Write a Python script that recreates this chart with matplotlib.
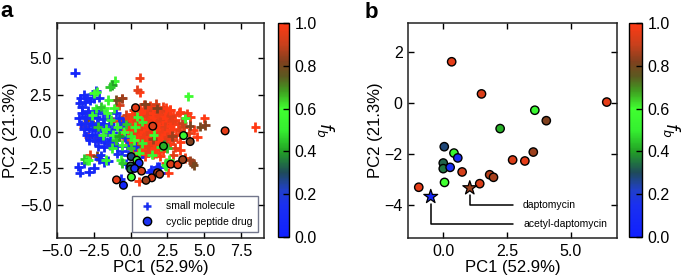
import matplotlib
matplotlib.use("Agg")
import matplotlib.pyplot as plt
from matplotlib.colors import LinearSegmentedColormap
from matplotlib.lines import Line2D
import numpy as np

plt.rcParams['font.family'] = ['Liberation Sans', 'DejaVu Sans']

# small molecules: (PC1, PC2, f_b), grouped roughly by colour
sm_red = [
    (0.9, 1.85, 0.95), (1.3, 1.75, 1.0), (1.7, 1.9, 0.92), (2.2, 1.7, 0.97),
    (0.2, 1.45, 0.9), (0.6, 1.55, 0.98), (1.0, 1.5, 1.0), (1.4, 1.45, 0.95), (1.8, 1.55, 0.97),
    (2.3, 1.4, 0.93), (2.7, 1.5, 1.0),
    (-0.3, 1.15, 0.92), (0.1, 1.2, 1.0), (0.5, 1.1, 0.96), (0.9, 1.25, 1.0), (1.3, 1.15, 0.94),
    (1.7, 1.2, 1.0), (2.1, 1.1, 0.97), (2.5, 1.2, 0.95), (2.9, 1.1, 1.0), (3.3, 1.3, 0.96),
    (-0.6, 0.8, 0.9), (-0.2, 0.9, 0.97), (0.2, 0.85, 1.0), (0.6, 0.8, 0.94), (1.0, 0.9, 1.0),
    (1.4, 0.8, 0.97), (1.8, 0.9, 0.95), (2.2, 0.8, 1.0), (2.6, 0.9, 0.96), (3.0, 0.8, 1.0),
    (-0.4, 0.5, 0.95), (0.0, 0.45, 1.0), (0.4, 0.55, 0.96), (0.8, 0.5, 1.0), (1.2, 0.45, 0.93),
    (1.6, 0.55, 1.0), (2.0, 0.5, 0.97), (2.4, 0.45, 1.0), (2.8, 0.55, 0.95), (3.2, 0.5, 0.98),
    (-0.7, 0.15, 0.92), (-0.3, 0.2, 1.0), (0.1, 0.1, 0.95), (0.5, 0.2, 1.0), (0.9, 0.15, 0.97),
    (1.3, 0.1, 1.0), (1.7, 0.2, 0.94), (2.1, 0.15, 1.0), (2.5, 0.1, 0.96), (2.9, 0.2, 1.0),
    (3.3, 0.1, 0.95),
    (-0.5, -0.2, 0.95), (-0.1, -0.15, 1.0), (0.3, -0.25, 0.96), (0.7, -0.2, 1.0), (1.1, -0.15, 0.94),
    (1.5, -0.25, 1.0), (1.9, -0.2, 0.97), (2.3, -0.15, 1.0), (2.7, -0.25, 0.95), (3.1, -0.2, 0.98),
    (-0.3, -0.55, 0.93), (0.1, -0.5, 1.0), (0.5, -0.6, 0.97), (0.9, -0.55, 1.0), (1.3, -0.5, 0.95),
    (1.7, -0.6, 1.0), (2.1, -0.55, 0.96), (2.5, -0.5, 1.0), (2.9, -0.6, 0.94),
    (-0.1, -0.9, 0.97), (0.3, -0.85, 1.0), (0.7, -0.95, 0.94), (1.1, -0.9, 1.0), (1.5, -0.85, 0.96),
    (1.9, -0.95, 1.0), (2.3, -0.9, 0.95), (2.7, -0.85, 1.0),
    (0.2, -1.25, 0.95), (0.6, -1.2, 1.0), (1.0, -1.3, 0.97), (1.4, -1.25, 1.0), (1.8, -1.2, 0.94),
    (2.2, -1.3, 1.0),
    (0.5, -1.6, 0.96), (1.0, -1.65, 1.0), (1.5, -1.55, 0.93), (2.0, -1.65, 1.0),
    # in-between points of the dense core
    (0.7, 1.35, 1.0), (1.1, 1.65, 0.97), (1.5, 1.3, 1.0), (1.9, 1.35, 0.95), (2.4, 1.6, 1.0),
    (0.3, 1.0, 0.96), (0.7, 1.0, 1.0), (1.1, 1.05, 0.95), (1.5, 1.0, 1.0), (1.9, 1.05, 0.97),
    (2.3, 1.0, 1.0), (2.7, 1.05, 0.94), (0.0, 0.65, 1.0), (0.4, 0.7, 0.95), (0.8, 0.65, 1.0),
    (1.2, 0.7, 0.97), (1.6, 0.65, 1.0), (2.0, 0.7, 0.95), (2.4, 0.65, 1.0), (2.8, 0.7, 0.96),
    (-0.1, 0.3, 0.97), (0.3, 0.35, 1.0), (0.7, 0.3, 0.95), (1.1, 0.35, 1.0), (1.5, 0.3, 0.96),
    (1.9, 0.35, 1.0), (2.3, 0.3, 0.94), (2.7, 0.35, 1.0), (0.1, -0.05, 1.0), (0.5, 0.0, 0.96),
    (0.9, -0.05, 1.0), (1.3, 0.0, 0.95), (1.7, -0.05, 1.0), (2.1, 0.0, 0.97), (2.5, -0.05, 1.0),
    (0.1, -0.35, 0.95), (0.5, -0.4, 1.0), (0.9, -0.35, 0.97), (1.3, -0.4, 1.0), (1.7, -0.35, 0.95),
    (2.1, -0.4, 1.0), (2.5, -0.35, 0.96), (0.3, -0.7, 1.0), (0.7, -0.75, 0.95), (1.1, -0.7, 1.0),
    (1.5, -0.75, 0.97), (1.9, -0.7, 1.0), (2.3, -0.75, 0.94), (0.4, -1.05, 0.97), (0.8, -1.1, 1.0),
    (1.2, -1.05, 0.95), (1.6, -1.1, 1.0), (2.0, -1.05, 0.96), (0.8, -1.45, 1.0), (1.2, -1.4, 0.95),
    (1.7, -1.45, 1.0),
    # outliers
    (0.61, 3.67, 0.97), (0.61, 2.68, 1.0), (0.45, 2.85, 0.95), (-0.61, 2.27, 0.93), (-0.79, 1.8, 0.92),
    (3.38, 1.36, 1.0), (3.83, 1.25, 0.97), (4.05, 1.0, 1.0), (3.7, 0.95, 0.95), (5.0, 0.9, 1.0),
    (4.28, 0.12, 1.0), (3.94, -0.1, 0.95), (4.5, -0.34, 1.0), (3.38, -0.68, 1.0), (3.6, 0.3, 0.93),
    (3.38, -1.25, 1.0), (3.72, -1.81, 0.97), (2.52, -2.79, 1.0), (2.4, -2.15, 0.97), (8.47, 0.3, 1.0),
    (2.7, 1.48, 1.0), (3.5, 0.6, 0.9), (2.9, -1.6, 0.95), (0.56, -3.4, 1.0), (3.0, -1.1, 0.96),
    (-2.88, -0.34, 0.95), (-2.25, -0.45, 0.92), (-2.75, -1.59, 0.96), (-2.25, 0.34, 0.93),
    (-3.16, 0.34, 0.95), (-1.2, 0.7, 0.95), (-1.0, -0.6, 0.97),
]
sm_brown = [
    (-2.93, 0.8, 0.8), (-2.59, 0.46, 0.78), (-0.56, 2.27, 0.85), (-0.97, 2.15, 0.8),
    (0.97, 1.86, 0.82), (1.8, 1.59, 0.82), (1.5, -0.5, 0.85), (2.8, -0.3, 0.85),
    (4.0, 0.4, 0.82), (-2.3, -1.65, 0.8), (-1.5, -0.8, 0.8), (0.3, -1.0, 0.85),
    (4.73, 0.34, 0.8), (5.07, 0.45, 0.82), (4.19, -2.13, 0.82), (4.28, -2.27, 0.8),
    (4.05, -1.95, 0.85), (-2.88, 1.25, 0.8),
]
sm_blue = [
    (-3.78, 4.01, 0.05), (-3.2, 2.5, 0.08), (-3.42, 2.27, 0.05), (-2.93, 2.31, 0.1), (-3.11, 2.04, 0.06),
    (-2.59, 2.54, 0.1), (-2.48, 2.27, 0.05), (-2.36, 2.77, 0.12), (-3.49, 1.93, 0.08), (-2.14, 2.31, 0.1),
    (-2.75, 2.1, 0.05), (-3.3, 1.65, 0.1),
    (-3.3, 1.3, 0.05), (-2.9, 1.4, 0.1), (-2.5, 1.3, 0.06), (-2.1, 1.45, 0.15), (-1.7, 1.3, 0.1),
    (-3.5, 0.9, 0.05), (-3.1, 1.0, 0.08), (-2.7, 0.9, 0.12), (-2.3, 1.0, 0.05), (-1.9, 0.85, 0.1),
    (-1.5, 0.95, 0.18), (-3.4, 0.5, 0.06), (-3.0, 0.6, 0.1), (-2.6, 0.5, 0.05), (-2.2, 0.6, 0.12),
    (-1.8, 0.5, 0.08), (-1.4, 0.55, 0.15), (-3.2, 0.15, 0.1), (-2.8, 0.2, 0.05), (-2.4, 0.1, 0.08),
    (-2.0, 0.2, 0.12), (-1.6, 0.1, 0.06), (-1.2, 0.2, 0.15), (-3.0, -0.25, 0.08), (-2.6, -0.2, 0.05),
    (-2.2, -0.3, 0.1), (-1.8, -0.2, 0.15), (-1.4, -0.25, 0.08), (-1.0, -0.3, 0.12), (-2.8, -0.6, 0.05),
    (-2.4, -0.65, 0.1), (-2.0, -0.55, 0.06), (-1.6, -0.7, 0.12), (-1.2, -0.6, 0.08), (-2.2, -1.0, 0.1),
    (-1.8, -1.05, 0.05), (-1.4, -0.95, 0.15), (-0.9, -1.0, 0.1), (-0.5, 0.6, 0.15), (-0.8, 0.9, 0.12),
    (-1.0, 1.3, 0.1), (-0.7, 0.3, 0.18), (-0.4, -0.4, 0.15),
    (-3.56, -2.38, 0.05), (-3.47, -2.79, 0.08), (-3.15, -2.15, 0.1), (-2.82, -2.72, 0.06),
    (-2.48, -2.49, 0.1), (-2.14, -1.88, 0.05), (-1.8, -2.09, 0.12), (-1.51, -1.97, 0.08),
    (-2.03, -1.61, 0.1), (-0.27, -0.95, 0.15), (0.27, -1.02, 0.12), (0.56, -1.7, 0.1),
    (1.31, -2.77, 0.08), (1.69, -2.61, 0.1), (1.91, -2.38, 0.05), (1.98, -2.83, 0.12),
    (1.8, -2.38, 0.1), (1.4, -2.6, 0.08), (-0.9, -1.5, 0.12), (-0.6, -1.35, 0.1),
    (-0.2, -1.6, 0.15), (-0.68, -3.2, 0.1), (-0.3, -2.2, 0.12),
]
sm_green = [
    (-1.08, 3.45, 0.55), (-1.24, 3.18, 0.4), (-1.4, 3.06, 0.45), (-2.3, 2.72, 0.55), (-2.48, 2.61, 0.6),
    (-1.51, 2.16, 0.55), (-1.8, 1.59, 0.6), (-2.36, 1.59, 0.5), (3.92, 2.4, 0.58), (-2.03, 1.7, 0.45),
    (-1.13, 1.59, 0.55), (-1.35, 0.8, 0.5), (-0.9, 0.34, 0.55), (-0.45, 0.0, 0.6), (-1.01, -0.56, 0.45),
    (-0.56, -0.9, 0.55), (-1.24, -1.13, 0.5), (-1.91, -0.22, 0.55), (-2.25, 0.34, 0.45), (-1.58, 1.25, 0.6),
    (0.45, 1.02, 0.55), (0.79, 0.68, 0.5), (0.22, -0.56, 0.6), (0.0, -1.13, 0.45), (0.56, -1.47, 0.55),
    (2.03, -1.02, 0.5), (2.25, -0.9, 0.4), (2.59, -1.93, 0.55), (-0.68, -1.93, 0.6), (-0.56, -2.15, 0.45),
    (-1.69, -1.93, 0.55), (-2.93, -1.93, 0.5), (-3.15, -1.88, 0.45), (2.43, -2.33, 0.55), (-2.86, -1.95, 0.6),
    (0.3, 0.3, 0.55), (0.0, -0.3, 0.5), (-0.3, 0.5, 0.45), (0.8, -0.8, 0.5), (1.55, -0.22, 0.6),
    (1.46, -1.58, 0.55), (2.36, -2.27, 0.5), (2.48, -1.13, 0.45), (3.72, 0.91, 0.55), (-1.7, 0.2, 0.55),
    (-1.2, -0.2, 0.6), (-0.8, -0.3, 0.4), (-2.6, 1.1, 0.55),
]

# cyclic peptide drugs
cp_pc1 = [0.33, 1.50, 6.41, 3.59, 4.04, 2.23, 0.04, 0.42, 0.57, 0.0, 0.0,
          0.27, 0.74, 0.05, -0.96, 2.72, 3.20, 3.53, 1.82, 1.97, 1.43]
cp_pc2 = [1.63, 0.37, 0.05, -0.27, -0.68, -0.99, -1.70, -1.95, -2.14, -2.34, -2.56,
          -2.51, -2.69, -3.10, -3.29, -2.22, -2.26, -1.91, -2.80, -2.90, -3.15]
cp_fb = [0.95, 0.93, 0.95, 0.55, 0.82, 0.42, 0.28, 0.55, 0.12, 0.33, 0.35,
         0.12, 0.92, 0.6, 0.95, 0.93, 0.95, 0.85, 0.88, 0.86, 0.93]

# highlighted drugs
hl_names = ['daptomycin', 'acetyl-daptomycin']
hl_pc1 = [1.04, -0.49]
hl_pc2 = [-3.32, -3.66]
hl_fb = [0.85, 0.05]
hl_label_pos = [(3.13, -4.0), (3.13, -4.73)]

cmap = LinearSegmentedColormap.from_list('fb', [
    (0.0, '#1020ff'), (0.15, '#1a30f0'), (0.22, '#2040c8'), (0.3, '#1f4a5a'),
    (0.4, '#22a025'), (0.5, '#35f030'), (0.6, '#40ff30'), (0.68, '#3fa020'),
    (0.75, '#5a5a20'), (0.82, '#80401e'), (0.9, '#c8401c'), (1.0, '#ff3a14')])

fig = plt.figure(figsize=(6.85, 2.75), dpi=100)

ax1 = fig.add_axes([57/685, 37/275, 207/685, 215/275])
cax1 = fig.add_axes([277.5/685, 38/275, 11.5/685, 214/275])
ax2 = fig.add_axes([408.3/685, 37/275, 208.4/685, 215/275])
cax2 = fig.add_axes([629.3/685, 38/275, 12.4/685, 214/275])

sm = np.array(sm_red + sm_brown + sm_blue + sm_green)
sc = ax1.scatter(sm[:, 0], sm[:, 1], c=sm[:, 2], cmap=cmap, vmin=0, vmax=1,
                 marker='+', s=46, linewidths=2.0, zorder=2)
ax1.scatter(cp_pc1 + hl_pc1, cp_pc2 + hl_pc2, c=cp_fb + hl_fb, cmap=cmap, vmin=0, vmax=1,
            marker='o', s=30, edgecolors='black', linewidths=1.0, zorder=3)
ax1.set_xlim(-5, 9.05)
ax1.set_ylim(-7.25, 7.4)
ax1.set_xticks([-5, -2.5, 0, 2.5, 5, 7.5])
ax1.set_yticks([-5, -2.5, 0, 2.5, 5])
ax1.xaxis.set_major_formatter('{x:.1f}')
ax1.yaxis.set_major_formatter('{x:.1f}')

handles = [Line2D([], [], marker='+', color='#1a30f0', ls='', ms=6, mew=1.8),
           Line2D([], [], marker='o', color='#1a30f0', mec='black', ls='', ms=6, mew=1.0)]
leg = ax1.legend(handles, ['small molecule', 'cyclic peptide drug'], loc='lower right',
                 fontsize=7.5, fancybox=False, borderaxespad=0.6, handletextpad=0.8,
                 borderpad=0.5, labelspacing=0.5)
leg.get_frame().set_edgecolor('#505570')
leg.get_frame().set_linewidth(1.0)

ax2.scatter(cp_pc1, cp_pc2, c=cp_fb, cmap=cmap, vmin=0, vmax=1,
            marker='o', s=36, edgecolors='black', linewidths=1.0, zorder=3)
ax2.scatter(hl_pc1, hl_pc2, c=hl_fb, cmap=cmap, vmin=0, vmax=1,
            marker='*', s=110, edgecolors='black', linewidths=0.9, zorder=4)
for name, px, py, pos in zip(hl_names, hl_pc1, hl_pc2, hl_label_pos):
    ax2.annotate(name, xy=(px, py), xytext=pos, fontsize=7.5, ha='left', va='center',
                 arrowprops=dict(arrowstyle='-', color='black', lw=1.1,
                                 connectionstyle='angle,angleA=0,angleB=90,rad=0',
                                 relpos=(0, 0.5), shrinkA=5, shrinkB=5))
ax2.set_xlim(-1.37, 6.8)
ax2.set_ylim(-5.28, 3.15)
ax2.set_xticks([0, 2.5, 5])
ax2.set_yticks([-4, -2, 0, 2])
ax2.xaxis.set_major_formatter('{x:.1f}')

for ax in (ax1, ax2):
    ax.set_xlabel('PC1 (52.9%)', fontsize=12, labelpad=1)
    ax.set_ylabel('PC2 (21.3%)', fontsize=12, labelpad=1)
    ax.tick_params(direction='in', top=True, right=True, length=4, width=1,
                   labelsize=11.5, pad=4)
    for s in ax.spines.values():
        s.set_linewidth(1.1)
        s.set_color('#222222')

for cax, pad in ((cax1, 14), (cax2, 9)):
    cb = fig.colorbar(sc, cax=cax, ticks=[0, 0.2, 0.4, 0.6, 0.8, 1.0])
    cb.ax.yaxis.set_major_formatter('{x:.1f}')
    cb.ax.tick_params(direction='in', length=4, width=1, labelsize=11.5, pad=4)
    cb.outline.set_linewidth(1.0)
    cb.set_label('$f_b$', fontsize=12.5, rotation=270, labelpad=pad)

fig.text(0.0, 1 - 17/275, 'a', fontsize=16, fontweight='bold', va='baseline')
fig.text(365/685, 1 - 18/275, 'b', fontsize=16, fontweight='bold', va='baseline')

fig.savefig('out.png', dpi=100)
